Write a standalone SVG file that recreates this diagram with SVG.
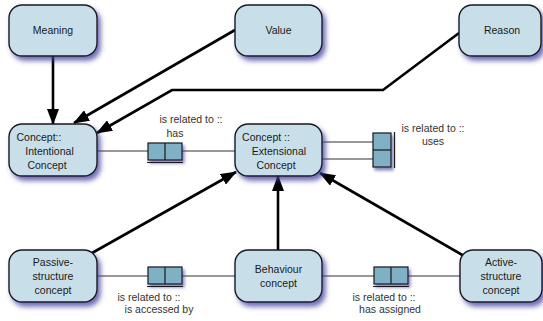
<svg xmlns="http://www.w3.org/2000/svg" width="543" height="321" viewBox="0 0 543 321">
  <defs>
    <filter id="shadow" x="-20%" y="-20%" width="150%" height="160%">
      <feGaussianBlur in="SourceAlpha" stdDeviation="2.5"/>
      <feOffset dx="3" dy="4" result="blur"/>
      <feFlood flood-color="#3c3c9c" flood-opacity="0.75"/>
      <feComposite in2="blur" operator="in"/>
      <feMerge>
        <feMergeNode/>
        <feMergeNode in="SourceGraphic"/>
      </feMerge>
    </filter>
    <filter id="boxshadow" x="-30%" y="-30%" width="170%" height="170%">
      <feGaussianBlur in="SourceAlpha" stdDeviation="1.5"/>
      <feOffset dx="2" dy="3" result="blur"/>
      <feFlood flood-color="#3c3c9c" flood-opacity="0.6"/>
      <feComposite in2="blur" operator="in"/>
      <feMerge>
        <feMergeNode/>
        <feMergeNode in="SourceGraphic"/>
      </feMerge>
    </filter>
    <marker id="arrow" viewBox="0 0 16 12" refX="15" refY="6" markerWidth="16" markerHeight="12" markerUnits="userSpaceOnUse" orient="auto">
      <path d="M0,0 L16,6 L0,12 Z" fill="#000"/>
    </marker>
  </defs>
  <style>
    .node rect { fill: #c8dfe9; stroke: #1a1a1a; stroke-width: 1.4; filter: url(#shadow); }
    .node text, .label { font-family: "Liberation Sans", Arial, sans-serif; font-size: 10.5px; fill: #1a1a1a; }
    .node text { text-anchor: middle; }
    .label { text-anchor: middle; fill: #333; }
    .flow { fill: none; stroke: #000; stroke-width: 2.6; marker-end: url(#arrow); }
    .rel { fill: none; stroke: #333; stroke-width: 1.1; }
    .assoc rect { fill: #7fb0c4; stroke: #1a1a1a; stroke-width: 1.2; }
    .assoc .shade { filter: url(#boxshadow); }
    .bar { stroke: #1a1a1a; stroke-width: 1.2; }
  </style>

  <!-- connectors -->
  <g id="connectors">
    <!-- relation lines -->
    <line class="rel" x1="97" y1="151" x2="235" y2="151"/>
    <line class="rel" x1="322" y1="142" x2="373" y2="142"/>
    <line class="rel" x1="322" y1="159" x2="373" y2="159"/>
    <line class="rel" x1="97" y1="276" x2="235" y2="276"/>
    <line class="rel" x1="322" y1="276" x2="460" y2="276"/>

    <!-- association boxes -->
    <g class="assoc">
      <rect class="shade" x="148" y="143" width="34" height="17"/>
      <line class="bar" x1="165" y1="143" x2="165" y2="160"/>
      <line class="bar" x1="147" y1="162.5" x2="183" y2="162.5"/>

      <rect class="shade" x="373" y="133" width="18" height="34"/>
      <line class="bar" x1="373" y1="150" x2="391" y2="150"/>
      <line class="bar" x1="394.5" y1="132" x2="394.5" y2="168"/>

      <rect class="shade" x="148" y="267" width="34" height="17"/>
      <line class="bar" x1="165" y1="267" x2="165" y2="284"/>
      <line class="bar" x1="147" y1="286.5" x2="183" y2="286.5"/>

      <rect class="shade" x="374" y="267" width="34" height="17"/>
      <line class="bar" x1="391" y1="267" x2="391" y2="284"/>
      <line class="bar" x1="373" y1="286.5" x2="409" y2="286.5"/>
    </g>

    <!-- arrows -->
    <path class="flow" d="M53,56 L53,124"/>
    <path class="flow" d="M235,30 L74,123"/>
    <path class="flow" d="M459,33 L383,90 L172,90 L97,133"/>
    <path class="flow" d="M92,253 L236,172"/>
    <path class="flow" d="M278,250 L278,176"/>
    <path class="flow" d="M464,256 L320,173"/>

    <!-- relation labels -->
    <text class="label" x="191" y="123">is related to ::</text>
    <text class="label" x="175" y="137">has</text>
    <text class="label" x="433" y="132">is related to ::</text>
    <text class="label" x="433" y="145">uses</text>
    <text class="label" x="149" y="301">is related to ::</text>
    <text class="label" x="159" y="313">is accessed by</text>
    <text class="label" x="384" y="301">is related to ::</text>
    <text class="label" x="390" y="313">has assigned</text>
  </g>

  <!-- nodes -->
  <g id="meaning" class="node">
    <rect x="9" y="5" width="88" height="51" rx="13"/>
    <text x="53" y="34">Meaning</text>
  </g>
  <g id="value" class="node">
    <rect x="235" y="5" width="87" height="51" rx="13"/>
    <text x="278.5" y="34">Value</text>
  </g>
  <g id="reason" class="node">
    <rect x="459" y="5" width="82" height="51" rx="13"/>
    <text x="502" y="34">Reason</text>
  </g>
  <g id="intentional" class="node">
    <rect x="9" y="124" width="88" height="52" rx="13"/>
    <text x="39" y="141">Concept::</text>
    <text x="49.5" y="155">Intentional</text>
    <text x="47" y="169">Concept</text>
  </g>
  <g id="extensional" class="node">
    <rect x="235" y="124" width="87" height="52" rx="13"/>
    <text x="266" y="141">Concept ::</text>
    <text x="279" y="155">Extensional</text>
    <text x="276" y="169">Concept</text>
  </g>
  <g id="passive" class="node">
    <rect x="9" y="250" width="88" height="52" rx="13"/>
    <text x="53" y="266">Passive-</text>
    <text x="53" y="280">structure</text>
    <text x="53" y="294">concept</text>
  </g>
  <g id="behaviour" class="node">
    <rect x="235" y="250" width="87" height="52" rx="13"/>
    <text x="278.5" y="273">Behaviour</text>
    <text x="278.5" y="287">concept</text>
  </g>
  <g id="active" class="node">
    <rect x="460" y="250" width="82" height="52" rx="13"/>
    <text x="501" y="266">Active-</text>
    <text x="501" y="280">structure</text>
    <text x="501" y="294">concept</text>
  </g>
</svg>
